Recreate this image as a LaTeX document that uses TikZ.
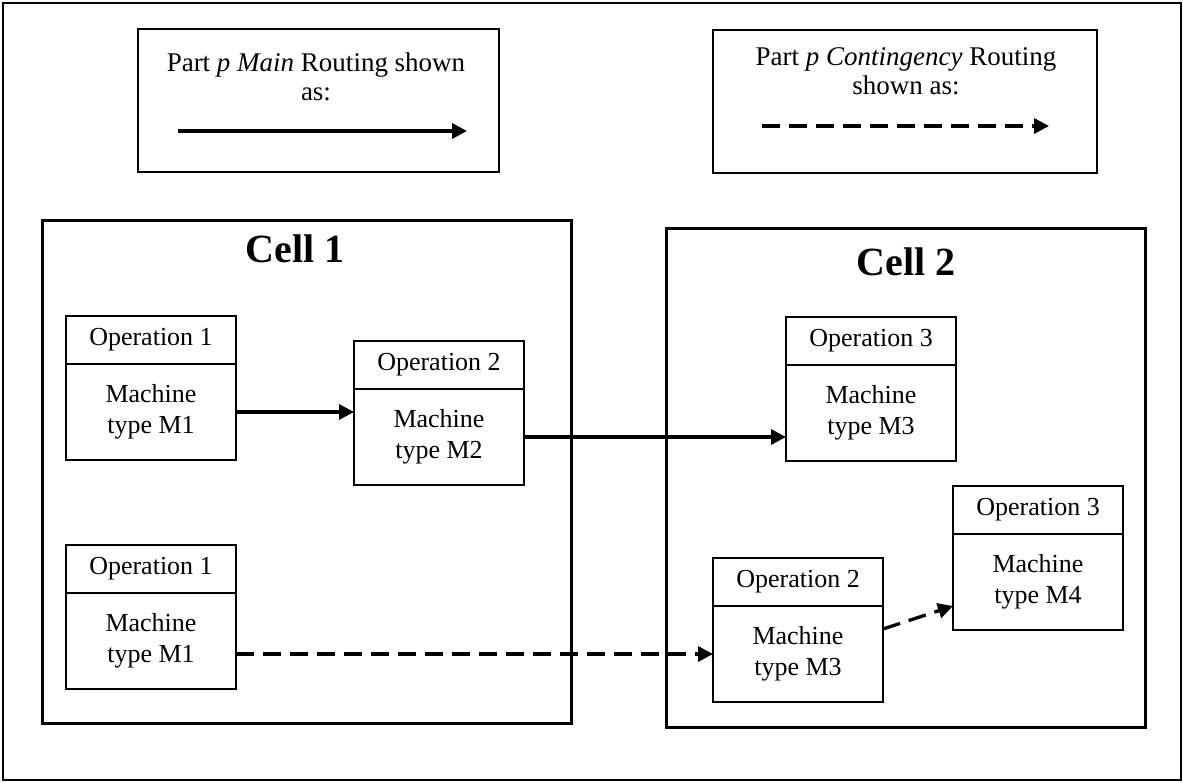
\documentclass[tikz,border=0pt]{standalone}
\usepackage{fontspec}
\setmainfont{Liberation Serif}
\usetikzlibrary{arrows.meta,positioning}
\newcommand{\boxfont}{\fontsize{13}{15.5}\selectfont}
\newcommand{\legfont}{\fontsize{13.5}{14.5}\selectfont}
\newcommand{\cellfont}{\fontsize{20}{22}\selectfont\bfseries}
\tikzset{
    ophead/.style={draw, line width=1.2pt, outer sep=0pt, inner sep=0pt,
        minimum width=85pt, minimum height=24pt, font=\boxfont},
    opbody/.style={draw, line width=1.2pt, outer sep=0pt, inner sep=0pt,
        minimum width=85pt, minimum height=48pt, align=center, font=\boxfont},
    route/.style={line width=1.65pt, -{Triangle[length=7.5pt,width=7.5pt]}},
    spare/.style={route, dash pattern=on 9pt off 4.5pt},
    keyframe/.style={line width=1pt},
    cellframe/.style={line width=1.5pt}
}

\begin{document}
\begin{tikzpicture}[x=0.5pt,y=-0.5pt]
      \useasboundingbox (0,0) rectangle (1183,782);
      \draw[line width=1pt] (3,3) rectangle (1181,780);
      % key boxes
      \draw[keyframe] (138,29) rectangle (499,172);
      \node[font=\legfont, align=center] (mainkey) at (316,77) {Part \textit{p Main} Routing shown\\as:};
      \coordinate (mainfrom) at (178,131);
      \coordinate (mainto) at (467,131);
      \draw[route] (mainfrom) -- (mainto);
      \draw[keyframe] (713,30) rectangle (1097,173);
      \node[font=\legfont, align=center] (sparekey) at (906,71) {Part \textit{p Contingency} Routing\\shown as:};
      \coordinate (sparefrom) at (762,126);
      \coordinate (spareto) at (1049,126);
      \draw[spare] (sparefrom) -- (spareto);
      % cells
      \draw[cellframe] (42,220) rectangle (571,723);
      \node[font=\cellfont] (cellone) at (295,249) {Cell 1};
      \draw[cellframe] (666,228) rectangle (1145,727);
      \node[font=\cellfont] (celltwo) at (906,262) {Cell 2};
      % operations
      \node[ophead] (h1a) at (151,340) {Operation 1};
      \node[opbody, below=0pt of h1a] (m1a) {Machine\\type M1};
      \node[ophead] (h2a) at (439,365) {Operation 2};
      \node[opbody, below=0pt of h2a] (m2a) {Machine\\type M2};
      \node[ophead] (h3a) at (871,341) {Operation 3};
      \node[opbody, below=0pt of h3a] (m3a) {Machine\\type M3};
      \node[ophead] (h1b) at (151,569) {Operation 1};
      \node[opbody, below=0pt of h1b] (m1b) {Machine\\type M1};
      \node[ophead] (h2b) at (798,582) {Operation 2};
      \node[opbody, below=0pt of h2b] (m2b) {Machine\\type M3};
      \node[ophead] (h3b) at (1038,510) {Operation 3};
      \node[opbody, below=0pt of h3b] (m3b) {Machine\\type M4};
      % routings
      \draw[route] (m1a.east) -- (m1a.east -| m2a.west);
      \draw[route] (m2a.east) -- (m2a.east -| m3a.west);
      \draw[spare] (m2b.west -| m1b.east) -- (m2b.west);
      \draw[spare] ([yshift=12.5pt]m2b.east) -- ([yshift=-12pt]m3b.west);
\end{tikzpicture}
\end{document}
